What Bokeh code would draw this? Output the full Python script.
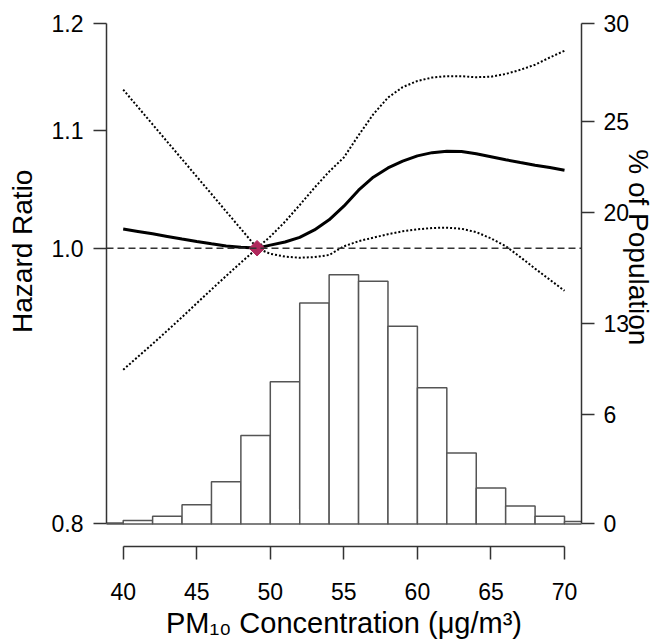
import math
from bokeh.plotting import figure
from bokeh.models import (Range1d, LinearAxis, FixedTicker, PrintfTickFormatter,
                          Span, LinearScale)
from bokeh.embed import file_html
from bokeh.resources import INLINE

# ---- data -------------------------------------------------------------
pm_grid = [40, 41, 42, 43, 44, 45, 46, 47, 48, 49, 49.1, 50, 51, 52, 53, 54, 55,
           56, 57, 58, 59, 60, 61, 62, 63, 64, 65, 66, 67, 68, 69, 70]
hr_estimate = [1.0156, 1.0137, 1.0117, 1.0096, 1.0075, 1.0055, 1.0036, 1.0018,
               1.0007, 1.0001, 1.0000, 1.0025, 1.0050, 1.0088, 1.0149, 1.0233,
               1.0346, 1.0481, 1.0592, 1.0672, 1.0731, 1.0777, 1.0805, 1.0817,
               1.0816, 1.0795, 1.0769, 1.0743, 1.0719, 1.0696, 1.0675, 1.0652]
hr_upper = [1.1371, 1.1212, 1.1055, 1.0900, 1.0748, 1.0597, 1.0449, 1.0302,
            1.0158, 1.0016, 1.0000, 1.0095, 1.0217, 1.0356, 1.0502, 1.0640,
            1.0763, 1.0958, 1.1146, 1.1298, 1.1394, 1.1451, 1.1483, 1.1496,
            1.1495, 1.1486, 1.1491, 1.1516, 1.1555, 1.1603, 1.1671, 1.1735]
hr_lower = [0.9062, 0.9158, 0.9254, 0.9354, 0.9457, 0.9564, 0.9671, 0.9778,
            0.9884, 0.9988, 1.0000, 0.9955, 0.9932, 0.9923, 0.9928, 0.9945,
            1.0015, 1.0057, 1.0086, 1.0114, 1.0138, 1.0154, 1.0165, 1.0168,
            1.0159, 1.0131, 1.0080, 1.0017, 0.9928, 0.9836, 0.9748, 0.9661]

ref_pm = [49.1]
ref_hr = [1.0]

bin_left = [38, 40, 42, 44, 46, 48, 50, 52, 54, 56, 58, 60, 62, 64, 66, 68, 70]
bin_right = [40, 42, 44, 46, 48, 50, 52, 54, 56, 58, 60, 62, 64, 66, 68, 70, 72]
pct_population = [0.05, 0.21, 0.45, 1.15, 2.53, 5.29, 8.51, 13.23, 14.93, 14.53,
                  11.84, 8.16, 4.24, 2.15, 1.07, 0.45, 0.14]

x_ticks = [40, 45, 50, 55, 60, 65, 70]
hr_ticks = [0.8, 1.0, 1.1, 1.2]
pct_tick_pos = [0, 6.53, 12.02, 18.65, 24.08, 30]
pct_tick_labels = ["0", "6", "13", "20", "25", "30"]

x_title = "PM\u2081\u2080 Concentration (\u03bcg/m\u00b3)"
left_title = "Hazard Ratio"
right_title = "% of Population"

# ---- figure -----------------------------------------------------------
FONT = "Liberation Sans"
AX = "#333333"
NBSP = "\u00a0"

p = figure(width=657, height=641, output_backend="svg", toolbar_location=None,
           x_range=Range1d(38.865, 71.155), y_range=Range1d(0.7853, 1.2124),
           y_axis_type="log",
           min_border_left=106, min_border_right=76, min_border_top=10,
           min_border_bottom=93)
p.outline_line_color = None
p.grid.visible = False
p.background_fill_color = "white"

p.extra_y_ranges = {"pct": Range1d(-1.355, 30.758)}
p.extra_y_scales = {"pct": LinearScale()}

# histogram
p.quad(left=bin_left, right=bin_right, top=pct_population, bottom=0,
       y_range_name="pct", fill_color="white", line_color="#555555",
       line_width=1.5)

# reference line
p.add_layout(Span(location=ref_hr[0], dimension="width", line_color=AX,
                  line_width=1.5, line_dash="7 4"))

# curves
p.line(pm_grid, hr_upper, line_color="black", line_width=2, line_dash="2 2")
p.line(pm_grid, hr_lower, line_color="black", line_width=2, line_dash="2 2")
p.line(pm_grid, hr_estimate, line_color="black", line_width=3)

# reference point
p.scatter(ref_pm, ref_hr, marker="square", angle=math.pi / 4, size=11,
          fill_color="#B0285C", line_color="#B0285C")

def style(ax):
    ax.axis_line_color = AX
    ax.axis_line_width = 1.5
    ax.major_tick_line_color = AX
    ax.major_tick_line_width = 1.5
    ax.major_tick_out = 13
    ax.major_tick_in = 0
    ax.minor_tick_line_color = None
    ax.major_label_text_font = FONT
    ax.major_label_text_font_size = "23px"
    ax.major_label_text_color = "black"
    ax.axis_label_text_font = FONT
    ax.axis_label_text_font_style = "normal"
    ax.axis_label_text_color = "black"
    ax.axis_label_text_font_size = "28px"
    ax.axis_label_text_line_height = 1.0

xa = p.xaxis[0]
style(xa)
xa.ticker = FixedTicker(ticks=x_ticks)
xa.bounds = (x_ticks[0], x_ticks[-1])
xa.axis_label = x_title
xa.axis_label_text_font_size = "29px"
xa.major_label_standoff = 23
xa.axis_label_standoff = 4

ya = p.yaxis[0]
style(ya)
ya.ticker = FixedTicker(ticks=hr_ticks)
ya.formatter = PrintfTickFormatter(format="%.1f")
ya.bounds = (hr_ticks[0], hr_ticks[-1])
ya.axis_label = NBSP * 7 + left_title
ya.major_label_standoff = 10
ya.axis_label_standoff = 11

ra = LinearAxis(y_range_name="pct", ticker=FixedTicker(ticks=pct_tick_pos),
                major_label_overrides=dict(zip(pct_tick_pos, pct_tick_labels)),
                bounds=(pct_tick_pos[0], pct_tick_pos[-1]))
style(ra)
ra.axis_label = right_title + NBSP * 8
ra.major_label_standoff = 9
ra.axis_label_standoff = -9
p.add_layout(ra, "right")

open("out.html", "w").write(file_html(p, INLINE))
